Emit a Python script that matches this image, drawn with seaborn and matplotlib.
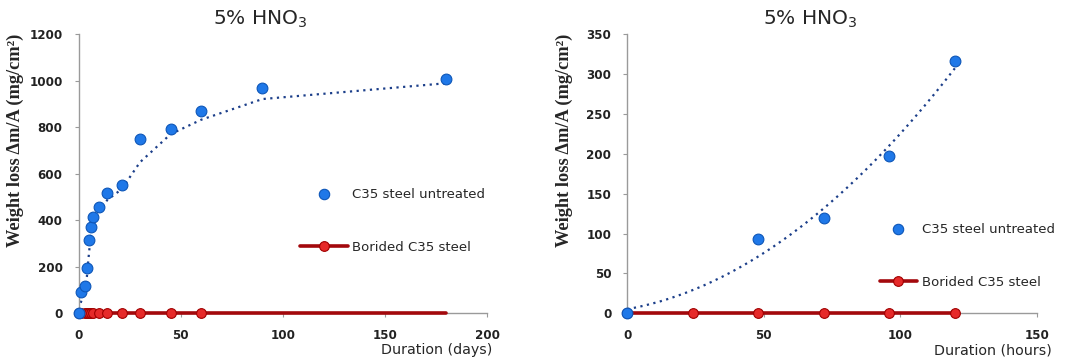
import numpy as np
import pandas as pd
import matplotlib
matplotlib.use("Agg")
import matplotlib.pyplot as plt
import seaborn as sns
from matplotlib.lines import Line2D

sns.set_style("white")
plt.rcParams['font.family'] = ['DejaVu Sans']

# ---- data: left panel (days) ----
days = [0, 1, 3, 4, 5, 6, 7, 10, 14, 21, 30, 45, 60, 90, 180]
untreated_days = [0, 90, 117, 196, 314, 373, 414, 459, 516, 551, 748, 793, 872, 971, 1008]
borided_days_x = [0, 1, 3, 4, 5, 6, 7, 10, 14, 21, 30, 45, 60, 180]
borided_days = [0, 0, 0, 0, 0, 0, 0, 0, 0, 0, 0, 0, 0, 0]

# ---- data: right panel (hours) ----
hours = [0, 48, 72, 96, 120]
untreated_hours = [0, 93, 119, 197, 317]
borided_hours_x = [0, 24, 48, 72, 96, 120]
borided_hours = [0, 0, 0, 0, 0, 0]

title = "5% HNO$_3$"
ylabel = "Weight loss \u0394m/A (mg/cm\u00b2)"
label_untreated = "C35 steel untreated"
label_borided = "Borided C35 steel"

BLUE = "#1f78e8"
BLUE_EDGE = "#0d56b8"
RED = "#e62a2a"
RED_EDGE = "#a00000"
DARKRED = "#a3080c"
TREND = "#1c3f8a"

W, H = 1066, 364
fig = plt.figure(figsize=(W / 100, H / 100), dpi=100)

def fx(px):
    return px / W

def fy(py):
    return 1 - py / H

axL = fig.add_axes([fx(78.7), fy(313.3), fx(487 - 78.7), (313.3 - 34.3) / H])
axR = fig.add_axes([fx(627.3), fy(313.3), fx(1036.7 - 627.3), (313.3 - 34.3) / H])


def style(ax, xmax, xstep, ymax, ystep):
    ax.set_xlim(0, xmax)
    ax.set_ylim(0, ymax)
    ax.set_xticks(np.arange(0, xmax + 1, xstep))
    ax.set_yticks(np.arange(0, ymax + 1, ystep))
    for s in ["top", "right"]:
        ax.spines[s].set_visible(False)
    for s in ["left", "bottom"]:
        ax.spines[s].set_color("#9a9a9a")
        ax.spines[s].set_linewidth(1.0)
    ax.tick_params(axis="x", direction="out", length=3, color="#9a9a9a", pad=8, bottom=True)
    ax.tick_params(axis="y", direction="out", length=3, color="#9a9a9a", pad=8.5, left=True)
    for lab in ax.get_xticklabels() + ax.get_yticklabels():
        lab.set_fontweight("bold")
        lab.set_fontsize(8.6)
        lab.set_color("#222222")
    ax.set_xlabel("")
    ax.set_ylabel("")


# ---- left panel ----
dL = pd.DataFrame({"x": days, "y": untreated_days})
bL = pd.DataFrame({"x": borided_days_x, "y": borided_days})
# 2-period moving average trendline
ma = pd.Series(untreated_days).rolling(2).mean()
axL.plot(days[1:], ma[1:], linestyle=(0, (1, 2)), color=TREND, linewidth=1.6, zorder=2)
sns.lineplot(data=bL, x="x", y="y", ax=axL, color=DARKRED, linewidth=2.6,
             marker="o", markersize=7, markerfacecolor=RED, markeredgecolor=RED_EDGE,
             markeredgewidth=0.8, markevery=list(range(len(borided_days_x) - 1)),
             zorder=3, clip_on=False)
sns.scatterplot(data=dL, x="x", y="y", ax=axL, color=BLUE, edgecolor=BLUE_EDGE,
                linewidth=0.8, s=60, zorder=4, clip_on=False)
style(axL, 200, 50, 1200, 200)

# ---- right panel ----
dR = pd.DataFrame({"x": hours, "y": untreated_hours})
bR = pd.DataFrame({"x": borided_hours_x, "y": borided_hours})
coef = np.polyfit(hours, untreated_hours, 2)
xs = np.linspace(0, max(hours), 300)
axR.plot(xs, np.polyval(coef, xs), linestyle=(0, (1, 2)), color=TREND, linewidth=1.6, zorder=2)
sns.lineplot(data=bR, x="x", y="y", ax=axR, color=DARKRED, linewidth=2.6,
             marker="o", markersize=7, markerfacecolor=RED, markeredgecolor=RED_EDGE,
             markeredgewidth=0.8, zorder=3, clip_on=False)
sns.scatterplot(data=dR, x="x", y="y", ax=axR, color=BLUE, edgecolor=BLUE_EDGE,
                linewidth=0.8, s=60, zorder=4, clip_on=False)
style(axR, 150, 50, 350, 50)

# ---- titles, labels, legends ----
for cx, ax, ylx, xl, xlr, legx, legy, hl in [
        (260, axL, 15, "Duration (days)", 492, 300, 221, 3.6),
        (810, axR, 564, "Duration (hours)", 1052, 880, 256, 2.8)]:
    fig.text(fx(cx), fy(19), title, ha="center", va="center", fontsize=14.5)
    fig.text(fx(ylx), fy(140), ylabel, ha="center", va="center", rotation=90,
             family="Liberation Serif", fontweight="bold", fontsize=13.2)
    fig.text(fx(xlr), fy(350), xl, ha="right", va="center", fontsize=10.3)
    handles = [
        Line2D([], [], linestyle="none", marker="o", markersize=7.5,
               markerfacecolor=BLUE, markeredgecolor=BLUE_EDGE, markeredgewidth=0.8),
        Line2D([], [], color=DARKRED, linewidth=2.6, marker="o", markersize=7,
               markerfacecolor=RED, markeredgecolor=RED_EDGE, markeredgewidth=0.8),
    ]
    leg = ax.legend(handles, [label_untreated, label_borided], loc="center left",
                    bbox_to_anchor=(fx(legx), fy(legy)), bbox_transform=fig.transFigure,
                    frameon=False, fontsize=9.5, handlelength=hl, handletextpad=0.35,
                    labelspacing=3.0, borderpad=0, borderaxespad=0)

fig.savefig("out.png", dpi=100, facecolor="white")
